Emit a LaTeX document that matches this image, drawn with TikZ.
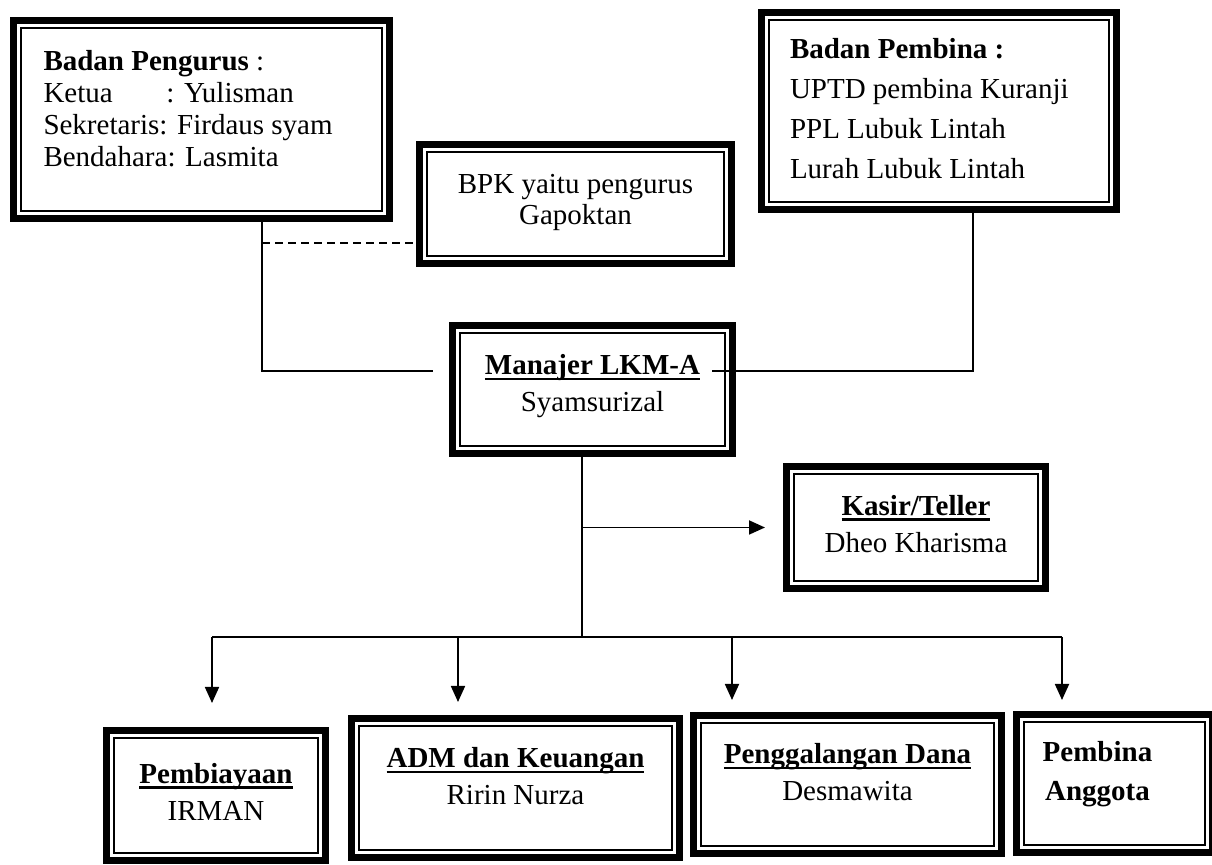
\documentclass[tikz,border=0pt]{standalone}
\usepackage{fontspec}
\setmainfont{Liberation Serif}
\usetikzlibrary{arrows.meta}

\newlength\headwd
\newcommand\headline[1]{\settowidth\headwd{#1}\rlap{\rule[-2.6pt]{\headwd}{1.1pt}}#1}

\tikzset{
  orgbox/.style={draw,line width=3.6pt,inner sep=0pt,font=\fontsize{14.5}{#1}\selectfont,
    path picture={\draw[line width=1pt]
      ([shift={(3.7pt,3.7pt)}]path picture bounding box.south west) rectangle
      ([shift={(-3.7pt,-3.7pt)}]path picture bounding box.north east);}},
  orgbox/.default=18.5,
  link/.style={line width=0.9pt},
  linkarrow/.style={link,-{Triangle[length=8pt,width=7pt]}}
}

\begin{document}
\begin{tikzpicture}[x=0.5pt,y=-0.5pt]
\useasboundingbox (0,0) rectangle (1212,865);

% top row
\node[orgbox=16,minimum width=187.9pt,minimum height=98.9pt] (pengurus) at (201.5,119.5) {%
  \begin{tabular}{@{}p{158pt}@{}}
  \textbf{Badan Pengurus} :\\
  \makebox[61.5pt][l]{Ketua}: Yulisman\\
  Sekretaris: Firdaus syam\\
  Bendahara: Lasmita\\[7.5pt]
  \end{tabular}};
\node[orgbox=15.5,minimum width=155.9pt,minimum height=59.4pt] (bpk) at (575.5,204) {%
  \begin{tabular}{@{}c@{}}BPK yaitu pengurus\\ Gapoktan\\[1pt]\end{tabular}};
\node[orgbox=20,minimum width=177.4pt,minimum height=98.4pt] (pembina) at (939,111) {%
  \begin{tabular}{@{}p{149pt}@{}}
  \textbf{Badan Pembina :}\\
  UPTD pembina Kuranji\\
  PPL Lubuk Lintah\\
  Lurah Lubuk Lintah\\[0pt]
  \end{tabular}};

% middle
\node[orgbox,minimum width=139.9pt,minimum height=63.9pt] (manajer) at (592.5,389.5) {%
  \begin{tabular}{@{}c@{}}\headline{\textbf{Manajer LKM-A}}\\ Syamsurizal\\[3.5pt]\end{tabular}};
\node[orgbox,minimum width=129.4pt,minimum height=60.9pt] (kasir) at (916,527.5) {%
  \begin{tabular}{@{}c@{}}\headline{\textbf{Kasir/Teller}}\\ Dheo Kharisma\\[1pt]\end{tabular}};

% bottom row
\node[orgbox,minimum width=109.4pt,minimum height=64.9pt] (biaya) at (216,795.5) {%
  \begin{tabular}{@{}c@{}}\headline{\textbf{Pembiayaan}}\\ IRMAN\\[1pt]\end{tabular}};
\node[orgbox,minimum width=163.9pt,minimum height=69.4pt] (adm) at (515.5,788) {%
  \begin{tabular}{@{}c@{}}\headline{\textbf{ADM dan Keuangan}}\\ Ririn Nurza\\[9pt]\end{tabular}};
\node[orgbox,minimum width=153.9pt,minimum height=68.9pt] (dana) at (847.5,784.5) {%
  \begin{tabular}{@{}c@{}}\headline{\textbf{Penggalangan Dana}}\\ Desmawita\\[9.5pt]\end{tabular}};
\node[orgbox=19.5,minimum width=97.9pt,minimum height=68.9pt] (anggota) at (1114.5,783.5) {%
  \begin{tabular}{@{}c@{\hspace{17pt}}}\textbf{Pembina}\\ \textbf{Anggota}\\[10.5pt]\end{tabular}};

% bend points
\coordinate (lturn) at (262,371);
\coordinate (rturn) at (973,371);
\coordinate (dturn) at (262,243);
\coordinate (stem) at (582,637);
\coordinate (b1) at (212,637);
\coordinate (b2) at (458,637);
\coordinate (b3) at (732,637);
\coordinate (b4) at (1062,637);

% connectors
\draw[link,shorten >=8pt] (pengurus.south -| lturn) |- (manajer.west |- lturn);
\draw[link,shorten >=-12pt] (pembina.south -| rturn) |- (manajer.east |- rturn);
\draw[link,dash pattern=on 4pt off 2.5pt] (dturn) -- (bpk.west |- dturn);
\draw[link] (manajer.south -| stem) -- (stem);
\draw[linkarrow,shorten >=9pt] (stem |- kasir.west) -- (kasir.west);
\draw[link] (b1) -- (b4);
\foreach \b/\n/\gap in {b1/biaya/12pt,b2/adm/6.5pt,b3/dana/6pt,b4/anggota/5.5pt}
  \draw[linkarrow,shorten >=\gap] (\b) -- (\b |- \n.north);
\end{tikzpicture}
\end{document}
